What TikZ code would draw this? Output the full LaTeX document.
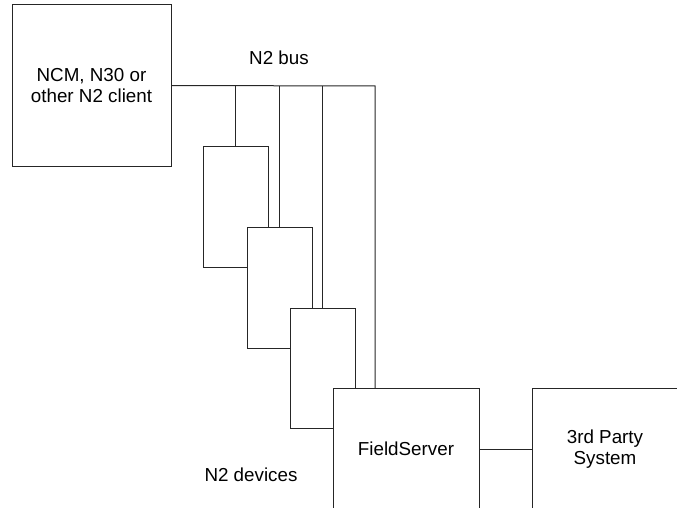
\documentclass[tikz,border=0pt]{standalone}
\usepackage{fontspec}
\setmainfont{Liberation Sans}
\begin{document}
\begin{tikzpicture}[x=1pt,y=-1pt,
  box/.style={draw=black!85,line width=1pt,fill=white,rectangle,inner sep=0pt,align=center,
    font=\fontsize{18.8}{21.5}\selectfont},
  lbl/.style={inner sep=0pt,align=center,font=\fontsize{18.8}{21.5}\selectfont},
  wire/.style={draw=black!85,line width=1pt}]
\useasboundingbox (0,0) rectangle (677,508);
\clip (0,0) rectangle (677,508);
\node[box,minimum width=159pt,minimum height=161pt] (ncm) at (91.5,85.5) {NCM, N30 or\\other N2 client};
\node[lbl] (bus) at (279,58) {N2 bus};
\coordinate (busend) at (375,86);
% device boxes positions
\path (235.5,206.5) coordinate (d1c) (279.5,287.5) coordinate (d2c) (322.5,368) coordinate (d3c) (406,449) coordinate (fsc);
% bus wires drawn first
\draw[wire] (ncm.east) -- (busend) -- (busend |- fsc) ;
\draw[wire] (d1c |- busend) -- (d1c);
\draw[wire] (d2c |- busend) -- (d2c);
\draw[wire] (d3c |- busend) -- (d3c);
\node[box,minimum width=65pt,minimum height=121pt] (d1) at (d1c) {};
\node[box,minimum width=65pt,minimum height=121pt] (d2) at (d2c) {};
\node[box,minimum width=65pt,minimum height=120pt] (d3) at (d3c) {};
\node[box,minimum width=146pt,minimum height=122pt] (fs) at (fsc) {FieldServer};
\node[box,minimum width=146pt,minimum height=122pt] (tp) at (605,449) {3rd Party\\System};
\draw[wire] (fs.east) -- (tp.west);
\node[lbl] (dev) at (251,475) {N2 devices};
\end{tikzpicture}
\end{document}
